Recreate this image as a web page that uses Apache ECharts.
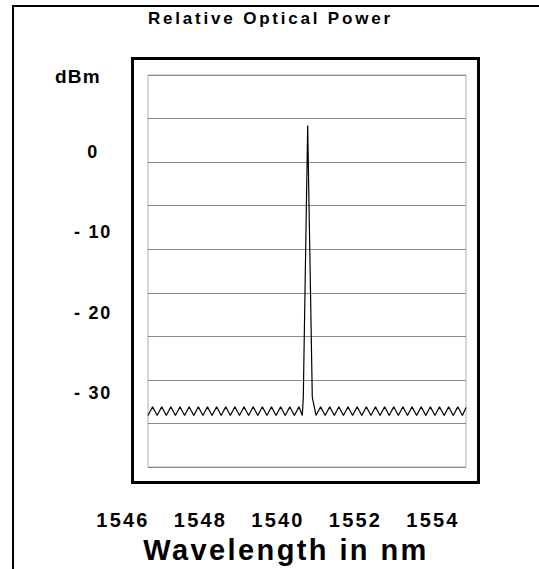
<!DOCTYPE html>
<html>
<head>
<meta charset="utf-8">
<script src="https://cdn.jsdelivr.net/npm/echarts@6/dist/echarts.min.js"></script>
<style>
html, body { margin: 0; padding: 0; background: #fff; }
#chart { width: 539px; height: 569px; }
</style>
</head>
<body>
<div id="chart"></div>
<script>
// ---- texts ----
const titleText = 'Relative Optical Power';
const yUnit = 'dBm';
const xName = 'Wavelength in nm';

// ---- tick labels (as printed on the original) ----
const xTickLabels = ['1546', '1548', '1540', '1552', '1554'];
const yTickLabels = ['- 30', '- 20', '- 10', '0'];

// ---- measured spectrum: wavelength (nm) and relative power (dBm) ----
const wavelengthNm = [
  1546.645, 1546.763, 1546.881, 1546.999, 1547.117, 1547.235, 1547.353, 1547.471,
  1547.589, 1547.707, 1547.826, 1547.944, 1548.062, 1548.180, 1548.298, 1548.416,
  1548.534, 1548.652, 1548.770, 1548.888, 1549.006, 1549.124, 1549.242, 1549.360,
  1549.478, 1549.596, 1549.714, 1549.832, 1549.950, 1550.068, 1550.187, 1550.305,
  1550.423, 1550.541,
  1550.627, 1550.653, 1550.766, 1550.885,
  1550.981, 1551.099, 1551.217, 1551.335, 1551.453, 1551.571, 1551.689, 1551.807,
  1551.925, 1552.043, 1552.162, 1552.280, 1552.398, 1552.516, 1552.634, 1552.752,
  1552.870, 1552.988, 1553.106, 1553.224, 1553.342, 1553.460, 1553.578, 1553.696,
  1553.814, 1553.932, 1554.050, 1554.168, 1554.287, 1554.405, 1554.523, 1554.641,
  1554.759, 1554.852
];
const powerDbm = [
  -32.8, -31.7, -32.8, -31.7, -32.8, -31.7, -32.8, -31.7,
  -32.8, -31.7, -32.8, -31.7, -32.8, -31.7, -32.8, -31.7,
  -32.8, -31.7, -32.8, -31.7, -32.8, -31.7, -32.8, -31.7,
  -32.8, -31.7, -32.8, -31.7, -32.8, -31.7, -32.8, -31.7,
  -32.8, -31.7,
  -32.8, -30.5, 3.3, -30.5,
  -32.8, -31.7, -32.8, -31.7, -32.8, -31.7, -32.8, -31.7,
  -32.8, -31.7, -32.8, -31.7, -32.8, -31.7, -32.8, -31.7,
  -32.8, -31.7, -32.8, -31.7, -32.8, -31.7, -32.8, -31.7,
  -32.8, -31.7, -32.8, -31.7, -32.8, -31.7, -32.8, -31.7,
  -32.8, -31.8
];

const FONT = "'Liberation Sans', Arial, Helvetica, sans-serif";

const chart = echarts.init(document.getElementById('chart'), null, { renderer: 'svg' });

const option = {
  animation: false,
  backgroundColor: '#fff',
  title: [
    {
      text: titleText, left: 143, top: 5,
      textStyle: { fontFamily: FONT, fontWeight: 'bold', fontSize: 17, color: '#000' }
    },
    {
      text: yUnit, left: 50, top: 62,
      textStyle: { fontFamily: FONT, fontWeight: 'bold', fontSize: 19, color: '#000' }
    }
  ],
  grid: [
    // plotting area with the grey grid
    { left: 148, top: 75, width: 318, height: 392, show: true, borderColor: '#b0b0b0', borderWidth: 1, backgroundColor: 'transparent' },
    // label scale grid
    { left: 123, top: 152, width: 310, height: 241, show: false }
  ],
  xAxis: [
    { gridIndex: 0, type: 'value', min: 1546.645, max: 1554.852, show: false },
    {
      gridIndex: 1, type: 'category', data: xTickLabels, boundaryGap: false,
      axisLine: { show: false }, axisTick: { show: false }, splitLine: { show: false },
      axisLabel: { fontFamily: FONT, fontWeight: 'bold', fontSize: 20, color: '#000', margin: 127, verticalAlign: 'middle', align: 'center' },
      name: xName, nameLocation: 'middle', nameGap: 157,
      nameTextStyle: { fontFamily: FONT, fontWeight: 'bold', fontSize: 29, color: '#000', verticalAlign: 'middle', padding: [0, 0, 0, 16] }
    }
  ],
  yAxis: [
    { gridIndex: 0, type: 'value', min: -39.21, max: 9.585, show: false },
    {
      gridIndex: 0, type: 'value', min: 0, max: 9, interval: 1,
      axisLine: { show: false }, axisTick: { show: false }, axisLabel: { show: false },
      splitLine: { show: true, lineStyle: { color: '#8a8a8a', width: 1 } }
    },
    {
      gridIndex: 1, type: 'category', data: yTickLabels, boundaryGap: false,
      axisLine: { show: false }, axisTick: { show: false }, splitLine: { show: false },
      axisLabel: { fontFamily: FONT, fontWeight: 'bold', fontSize: 18, color: '#000', margin: 30, align: 'center' }
    }
  ],
  graphic: [
    { type: 'line', shape: { x1: 13, y1: 5, x2: 13, y2: 569 }, style: { stroke: '#000', lineWidth: 2 }, silent: true },
    { type: 'line', shape: { x1: 12, y1: 6, x2: 539, y2: 6 }, style: { stroke: '#000', lineWidth: 2 }, silent: true },
    { type: 'rect', shape: { x: 132.5, y: 58.5, width: 346, height: 424 }, style: { fill: 'none', stroke: '#000', lineWidth: 3 }, silent: true }
  ],
  series: [
    {
      type: 'line', xAxisIndex: 0, yAxisIndex: 0,
      data: wavelengthNm.map((w, i) => [w, powerDbm[i]]),
      showSymbol: false, symbol: 'none', silent: true, smooth: false,
      lineStyle: { color: '#000', width: 1.2 }
    }
  ]
};

chart.setOption(option);

// letter-spaced lettering as in the original
const spacing = {};
spacing[titleText] = '2.8px';
spacing[yUnit] = '1.2px';
spacing[xName] = '2.4px';
xTickLabels.forEach(t => { spacing[t] = '2.2px'; });
yTickLabels.forEach(t => { spacing[t] = '1.7px'; });
function applySpacing() {
  document.querySelectorAll('#chart svg text').forEach(el => {
    const s = spacing[el.textContent.trim()];
    if (s) el.style.letterSpacing = s;
  });
}
chart.on('finished', applySpacing);
setTimeout(applySpacing, 50);
setTimeout(applySpacing, 300);
</script>
</body>
</html>
